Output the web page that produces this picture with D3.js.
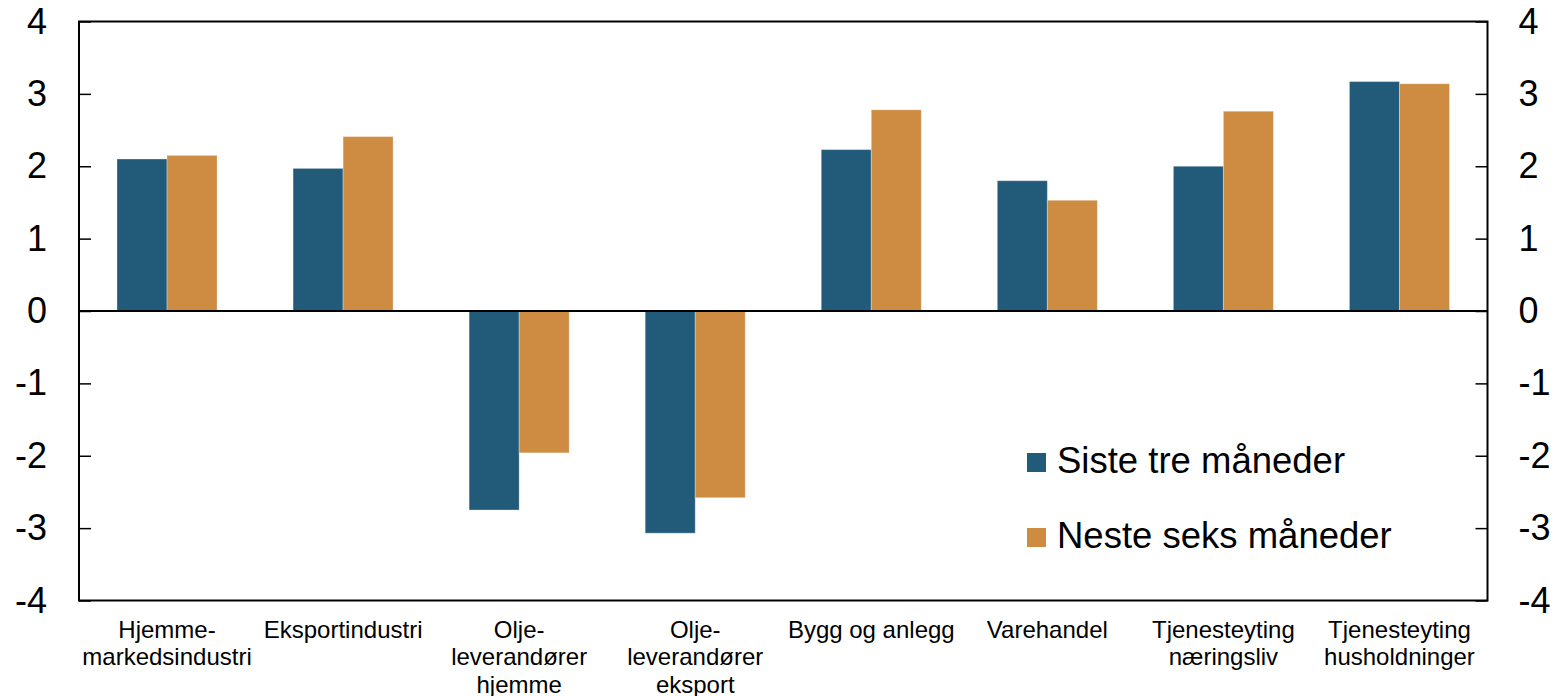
<!DOCTYPE html>
<html>
<head>
<meta charset="utf-8">
<script src="https://cdn.jsdelivr.net/npm/d3@7"></script>
<style>
  body { margin: 0; background: #fff; }
  text { font-family: "Liberation Sans", Arial, sans-serif; fill: #000; }
</style>
</head>
<body>
<div class="chart"></div>
<script>
var svgWidth = 1560;
var svgHeight = 696;

// plot frame
var margin = { top: 21.5, right: 72.5, bottom: 95.5, left: 79 };
var width = svgWidth - margin.left - margin.right;
var height = svgHeight - margin.top - margin.bottom;

// data
var categories = [
  ["Hjemme-", "markedsindustri"],
  ["Eksportindustri"],
  ["Olje-", "leverandører", "hjemme"],
  ["Olje-", "leverandører", "eksport"],
  ["Bygg og anlegg"],
  ["Varehandel"],
  ["Tjenesteyting", "næringsliv"],
  ["Tjenesteyting", "husholdninger"]
];
var seriesNames = ["Siste tre måneder", "Neste seks måneder"];
var sisteTre = [2.10, 1.97, -2.75, -3.07, 2.23, 1.80, 2.00, 3.17];
var nesteSeks = [2.15, 2.41, -1.96, -2.58, 2.78, 1.53, 2.76, 3.14];
var colors = ["#225a79", "#cd8c42"];
var yTicks = [-4, -3, -2, -1, 0, 1, 2, 3, 4];

var seriesValues = [sisteTre, nesteSeks];

var svg = d3.select(".chart")
  .append("svg")
  .attr("width", svgWidth)
  .attr("height", svgHeight);

var chartGroup = svg.append("g")
  .attr("transform", `translate(${margin.left}, ${margin.top})`);

// scales
var catIdx = categories.map((c, i) => i);
var x0 = d3.scaleBand().domain(catIdx).range([0, width]).padding(0);
var x1 = d3.scaleBand().domain([0, 1]).range([0, x0.bandwidth()])
  .paddingInner(0).paddingOuter(0.76);
var yScale = d3.scaleLinear().domain([-4, 4]).range([height, 0]);

// bars
var groups = chartGroup.selectAll(".cat")
  .data(catIdx)
  .enter()
  .append("g")
  .attr("transform", d => `translate(${x0(d)}, 0)`);

groups.selectAll("rect")
  .data(i => seriesValues.map((s, k) => ({ k: k, v: s[i] })))
  .enter()
  .append("rect")
  .attr("x", d => x1(d.k))
  .attr("width", x1.bandwidth())
  .attr("y", d => yScale(Math.max(0, d.v)))
  .attr("height", d => Math.abs(yScale(d.v) - yScale(0)))
  .attr("fill", d => colors[d.k])
  .attr("stroke", "#fff")
  .attr("stroke-opacity", 0.3)
  .attr("stroke-width", 1);

// axes (plain hyphen for negatives, like the original)
var fmt = d => String(d);
var leftAxis = d3.axisLeft(yScale).tickValues(yTicks).tickFormat(fmt)
  .tickSizeInner(-12).tickSizeOuter(0).tickPadding(32);
var rightAxis = d3.axisRight(yScale).tickValues(yTicks).tickFormat(fmt)
  .tickSizeInner(-12).tickSizeOuter(0).tickPadding(31);

[chartGroup.append("g").call(leftAxis),
 chartGroup.append("g").attr("transform", `translate(${width}, 0)`).call(rightAxis)]
  .forEach(function (ax) {
    ax.select(".domain").remove();
    ax.selectAll("line").attr("stroke", "#000").attr("stroke-width", 1.5);
    ax.selectAll("text").attr("font-size", "36px")
      .attr("font-family", "'Liberation Sans', Arial, sans-serif")
      .attr("fill", "#000");
  });

// zero line
chartGroup.append("line")
  .attr("x1", 0).attr("x2", width)
  .attr("y1", yScale(0)).attr("y2", yScale(0))
  .attr("stroke", "#000").attr("stroke-width", 2);

// frame
chartGroup.append("rect")
  .attr("width", width).attr("height", height)
  .attr("fill", "none").attr("stroke", "#000").attr("stroke-width", 2);

// category labels
var catLabels = chartGroup.selectAll(".catLabel")
  .data(catIdx)
  .enter()
  .append("text")
  .attr("text-anchor", "middle")
  .attr("font-size", "24px")
  .attr("transform", d => `translate(${x0(d) + x0.bandwidth() / 2}, ${height + 37})`);

catLabels.selectAll("tspan")
  .data(d => categories[d])
  .enter()
  .append("tspan")
  .attr("x", 0)
  .attr("y", (d, i) => i * 27.5)
  .text(d => d);

// legend
var legend = chartGroup.append("g")
  .attr("transform", `translate(${1027 - margin.left}, ${453 - margin.top})`);

seriesNames.forEach(function (name, k) {
  legend.append("rect")
    .attr("x", 0).attr("y", k * 75)
    .attr("width", 19).attr("height", 19)
    .attr("fill", colors[k]);
  legend.append("text")
    .attr("x", 30).attr("y", k * 75 + 20)
    .attr("font-size", "36.5px")
    .text(name);
});
</script>
</body>
</html>
